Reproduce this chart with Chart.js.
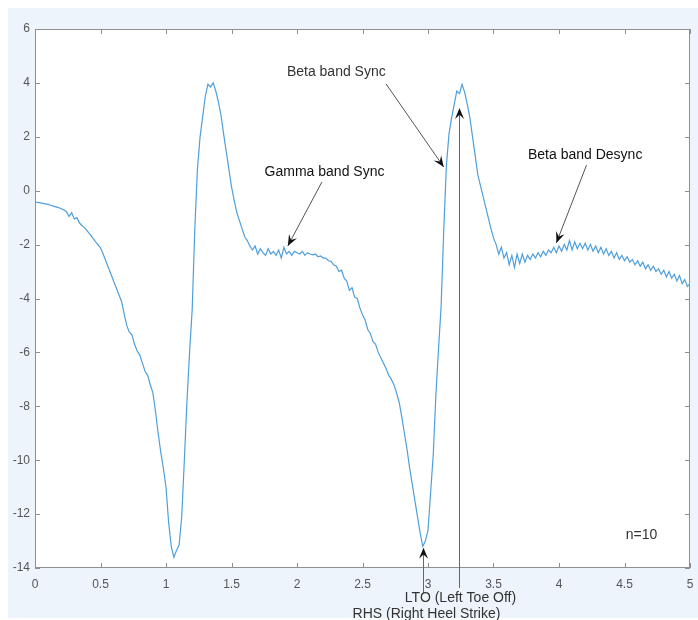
<!DOCTYPE html>
<html>
<head>
<meta charset="utf-8">
<script src="https://cdn.jsdelivr.net/npm/chart.js@4"></script>
<style>
  html, body { margin: 0; padding: 0; background: #ffffff; }
  #wrap { width: 698px; height: 620px; }
</style>
</head>
<body>
<div id="wrap"><canvas id="c" width="698" height="620"></canvas></div>
<script>
// ---- data ----
const timeSec = [
 0.00,0.02,0.04,0.06,0.08,0.10,0.12,0.14,0.16,0.18,0.20,0.22,0.24,0.26,0.28,0.30,0.32,0.34,0.36,0.38,
 0.40,0.42,0.44,0.46,0.48,0.50,0.52,0.54,0.56,0.58,0.60,0.62,0.64,0.66,0.68,0.70,0.72,0.74,0.76,0.78,
 0.80,0.82,0.84,0.86,0.88,0.90,0.92,0.94,0.96,0.98,1.00,1.02,1.04,1.06,1.08,1.10,1.12,1.14,1.16,1.18,
 1.20,1.22,1.24,1.26,1.28,1.30,1.32,1.34,1.36,1.38,1.40,1.42,1.44,1.46,1.48,1.50,1.52,1.54,1.56,1.58,
 1.60,1.62,1.64,1.66,1.68,1.70,1.72,1.74,1.76,1.78,1.80,1.82,1.84,1.86,1.88,1.90,1.92,1.94,1.96,1.98,
 2.00,2.02,2.04,2.06,2.08,2.10,2.12,2.14,2.16,2.18,2.20,2.22,2.24,2.26,2.28,2.30,2.32,2.34,2.36,2.38,
 2.40,2.42,2.44,2.46,2.48,2.50,2.52,2.54,2.56,2.58,2.60,2.62,2.64,2.66,2.68,2.70,2.72,2.74,2.76,2.78,
 2.80,2.82,2.84,2.86,2.88,2.90,2.92,2.94,2.96,2.98,3.00,3.02,3.04,3.06,3.08,3.10,3.12,3.14,3.16,3.18,
 3.20,3.22,3.24,3.26,3.28,3.30,3.32,3.34,3.36,3.38,3.40,3.42,3.44,3.46,3.48,3.50,3.52,3.54,3.56,3.58,
 3.60,3.62,3.64,3.66,3.68,3.70,3.72,3.74,3.76,3.78,3.80,3.82,3.84,3.86,3.88,3.90,3.92,3.94,3.96,3.98,
 4.00,4.02,4.04,4.06,4.08,4.10,4.12,4.14,4.16,4.18,4.20,4.22,4.24,4.26,4.28,4.30,4.32,4.34,4.36,4.38,
 4.40,4.42,4.44,4.46,4.48,4.50,4.52,4.54,4.56,4.58,4.60,4.62,4.64,4.66,4.68,4.70,4.72,4.74,4.76,4.78,
 4.80,4.82,4.84,4.86,4.88,4.90,4.92,4.94,4.96,4.98,5.00
];
const signal = [
 -0.42,-0.43,-0.45,-0.47,-0.49,-0.51,-0.54,-0.57,-0.60,-0.63,-0.67,-0.71,-0.78,-0.95,-0.82,-1.05,-1.00,-1.20,-1.30,-1.38,
 -1.50,-1.62,-1.75,-1.88,-2.00,-2.12,-2.35,-2.60,-2.85,-3.10,-3.35,-3.60,-3.85,-4.10,-4.55,-5.00,-5.25,-5.35,-5.70,-5.95,
 -6.10,-6.40,-6.70,-6.85,-7.20,-7.50,-8.20,-9.00,-9.70,-10.30,-11.00,-12.30,-13.20,-13.60,-13.35,-13.15,-12.10,-10.00,-7.80,-6.00,
 -4.40,-1.40,0.80,2.00,2.75,3.50,3.95,3.85,4.00,3.70,3.30,2.80,2.10,1.45,0.80,0.15,-0.35,-0.80,-1.10,-1.40,
 -1.70,-1.85,-2.05,-2.20,-2.05,-2.35,-2.15,-2.30,-2.40,-2.15,-2.35,-2.25,-2.40,-2.20,-2.50,-2.10,-2.35,-2.25,-2.40,-2.25,
 -2.30,-2.35,-2.25,-2.40,-2.30,-2.35,-2.38,-2.35,-2.45,-2.42,-2.50,-2.50,-2.60,-2.62,-2.75,-2.80,-3.00,-2.95,-3.25,-3.35,
 -3.70,-3.60,-3.95,-4.00,-4.35,-4.60,-4.80,-5.15,-5.30,-5.60,-5.70,-6.00,-6.20,-6.40,-6.60,-6.85,-7.00,-7.20,-7.50,-7.85,
 -8.40,-9.00,-9.60,-10.30,-10.90,-11.50,-12.10,-12.70,-13.20,-13.00,-12.60,-11.20,-9.80,-7.60,-5.90,-4.30,-1.50,0.90,2.10,2.70,
 3.20,3.70,3.60,3.95,3.65,3.20,2.70,2.00,1.30,0.60,0.20,-0.20,-0.60,-1.00,-1.40,-1.75,-2.00,-2.35,-2.10,-2.50,
 -2.30,-2.75,-2.40,-2.85,-2.35,-2.70,-2.35,-2.65,-2.40,-2.55,-2.35,-2.50,-2.30,-2.45,-2.25,-2.40,-2.20,-2.30,-2.10,-2.30,
 -2.05,-2.25,-2.00,-2.20,-1.85,-2.20,-1.90,-2.15,-1.95,-2.15,-1.95,-2.20,-2.00,-2.25,-2.05,-2.30,-2.10,-2.35,-2.15,-2.40,
 -2.25,-2.50,-2.30,-2.55,-2.40,-2.60,-2.45,-2.65,-2.55,-2.75,-2.60,-2.80,-2.65,-2.90,-2.75,-2.95,-2.80,-3.00,-2.90,-3.10,
 -2.95,-3.20,-3.00,-3.25,-3.10,-3.35,-3.15,-3.45,-3.30,-3.55,-3.45
];
const xTickValues = [0, 0.5, 1, 1.5, 2, 2.5, 3, 3.5, 4, 4.5, 5];
const xTickLabels = ['0','0.5','1','1.5','2','2.5','3','3.5','4','4.5','5'];
const yTickValues = [-14, -12, -10, -8, -6, -4, -2, 0, 2, 4, 6];
const yTickLabels = ['-14','-12','-10','-8','-6','-4','-2','0','2','4','6'];

// annotations (in data units): text, text anchor, arrow start, arrow end
const annotTexts = ['Beta band Sync', 'Gamma band Sync', 'Beta band Desync'];
const annotTextPos = [[2.30, 4.40], [2.21, 0.69], [4.20, 1.32]];
const annotArrowFrom = [[2.68, 3.96], [2.19, 0.32], [4.21, 0.95]];
const annotArrowTo = [[3.12, 0.88], [1.93, -2.05], [3.98, -1.94]];
const eventLabels = ['LTO (Left Toe Off)', 'RHS (Right Heel Strike)'];
const eventTimes = [3.237, 2.96];
const eventTipValues = [3.07, -13.25];
const noteText = 'n=10';
const notePos = [4.63, -12.78];

const points = timeSec.map((t, i) => ({ x: t, y: signal[i] }));

const FONT = '"Liberation Sans", Arial, Helvetica, sans-serif';

function arrowHead(ctx, x1, y1, x2, y2, len, half) {
  const ang = Math.atan2(y2 - y1, x2 - x1);
  const bx = x2 - len * Math.cos(ang), by = y2 - len * Math.sin(ang);
  const nx = -Math.sin(ang), ny = Math.cos(ang);
  const mx = x2 - len * 0.62 * Math.cos(ang), my = y2 - len * 0.62 * Math.sin(ang);
  ctx.beginPath();
  ctx.moveTo(x2, y2);
  ctx.lineTo(bx + nx * half, by + ny * half);
  ctx.lineTo(mx, my);
  ctx.lineTo(bx - nx * half, by - ny * half);
  ctx.closePath();
  ctx.fillStyle = '#111';
  ctx.fill();
}

const bgPlugin = {
  id: 'bg',
  beforeDraw(chart) {
    const { ctx, chartArea: a } = chart;
    ctx.save();
    ctx.fillStyle = '#ffffff';
    ctx.fillRect(0, 0, chart.width, chart.height);
    ctx.fillStyle = '#edf4fc';
    ctx.fillRect(8, 8, chart.width - 8, chart.height - 10);
    ctx.fillStyle = '#ffffff';
    ctx.fillRect(a.left, a.top, a.right - a.left, a.bottom - a.top);
    ctx.restore();
  }
};

const decoPlugin = {
  id: 'deco',
  afterDraw(chart) {
    const { ctx, chartArea: a, scales } = chart;
    const xs = scales.x, ys = scales.y;
    ctx.save();
    // box
    ctx.strokeStyle = '#8f8f8f';
    ctx.lineWidth = 1;
    ctx.strokeRect(a.left + 0.5, a.top + 0.5, a.right - a.left - 1, a.bottom - a.top - 1);
    // inner ticks
    ctx.beginPath();
    const tl = 5;
    xTickValues.forEach(v => {
      const px = Math.round(xs.getPixelForValue(v)) + 0.5;
      ctx.moveTo(px, a.bottom); ctx.lineTo(px, a.bottom - tl);
      ctx.moveTo(px, a.top); ctx.lineTo(px, a.top + tl);
    });
    yTickValues.forEach(v => {
      const py = Math.round(ys.getPixelForValue(v)) + 0.5;
      ctx.moveTo(a.left, py); ctx.lineTo(a.left + tl, py);
      ctx.moveTo(a.right, py); ctx.lineTo(a.right - tl, py);
    });
    ctx.stroke();

    // annotations
    ctx.font = '14px ' + FONT;
    ctx.fillStyle = '#333';
    ctx.textAlign = 'center';
    ctx.textBaseline = 'middle';
    annotTexts.forEach((t, i) => {
      ctx.fillText(t, xs.getPixelForValue(annotTextPos[i][0]), ys.getPixelForValue(annotTextPos[i][1]));
      const x1 = xs.getPixelForValue(annotArrowFrom[i][0]), y1 = ys.getPixelForValue(annotArrowFrom[i][1]);
      const x2 = xs.getPixelForValue(annotArrowTo[i][0]), y2 = ys.getPixelForValue(annotArrowTo[i][1]);
      ctx.strokeStyle = '#555';
      ctx.lineWidth = 1;
      ctx.beginPath(); ctx.moveTo(x1, y1); ctx.lineTo(x2, y2); ctx.stroke();
      arrowHead(ctx, x1, y1, x2, y2, 11, 4.5);
    });

    // event arrows (vertical)
    const ltoX = Math.round(xs.getPixelForValue(eventTimes[0])) + 0.5;
    const ltoTip = ys.getPixelForValue(eventTipValues[0]);
    ctx.strokeStyle = '#666';
    ctx.beginPath(); ctx.moveTo(ltoX, 588); ctx.lineTo(ltoX, ltoTip + 4); ctx.stroke();
    arrowHead(ctx, ltoX, 588, ltoX, ltoTip, 11, 4.5);

    const rhsX = Math.round(xs.getPixelForValue(eventTimes[1])) + 0.5;
    const rhsTip = ys.getPixelForValue(eventTipValues[1]);
    ctx.beginPath(); ctx.moveTo(rhsX, 593); ctx.lineTo(rhsX, rhsTip + 4); ctx.stroke();
    arrowHead(ctx, rhsX, 593, rhsX, rhsTip, 11, 4.5);

    ctx.fillStyle = '#333';
    ctx.font = '14px ' + FONT;
    ctx.fillText(eventLabels[0], ltoX + 1, 598);
    ctx.fillText(eventLabels[1], rhsX + 3, 614);

    ctx.fillText(noteText, xs.getPixelForValue(notePos[0]), ys.getPixelForValue(notePos[1]));
    ctx.restore();
  }
};

new Chart(document.getElementById('c'), {
  type: 'scatter',
  data: {
    datasets: [{
      data: points,
      showLine: true,
      borderColor: '#4f9fdc',
      borderWidth: 1.2,
      pointRadius: 0,
      tension: 0
    }]
  },
  options: {
    responsive: false,
    animation: false,
    devicePixelRatio: 1,
    layout: { padding: { top: 29, right: 8, left: 0, bottom: 0 } },
    plugins: { legend: { display: false }, tooltip: { enabled: false } },
    scales: {
      x: {
        type: 'linear', min: 0, max: 5,
        afterFit(s) { s.height = 52; s.paddingLeft = 0; s.paddingRight = 0; },
        afterBuildTicks(s) { s.ticks = xTickValues.map(v => ({ value: v })); },
        grid: { display: false, drawTicks: false },
        border: { display: false },
        ticks: {
          padding: 9, color: '#555', font: { family: FONT, size: 12 }, autoSkip: false, maxRotation: 0,
          callback: (v) => { const i = xTickValues.indexOf(v); return i >= 0 ? xTickLabels[i] : ''; }
        }
      },
      y: {
        type: 'linear', min: -14, max: 6,
        afterFit(s) { s.width = 35; s.paddingTop = 0; s.paddingBottom = 0; },
        afterBuildTicks(s) { s.ticks = yTickValues.map(v => ({ value: v })); },
        grid: { display: false, drawTicks: false },
        border: { display: false },
        ticks: {
          padding: 5, color: '#555', font: { family: FONT, size: 12 }, autoSkip: false,
          callback: (v) => { const i = yTickValues.indexOf(v); return i >= 0 ? yTickLabels[i] : ''; }
        }
      }
    }
  },
  plugins: [bgPlugin, decoPlugin]
});
</script>
</body>
</html>
